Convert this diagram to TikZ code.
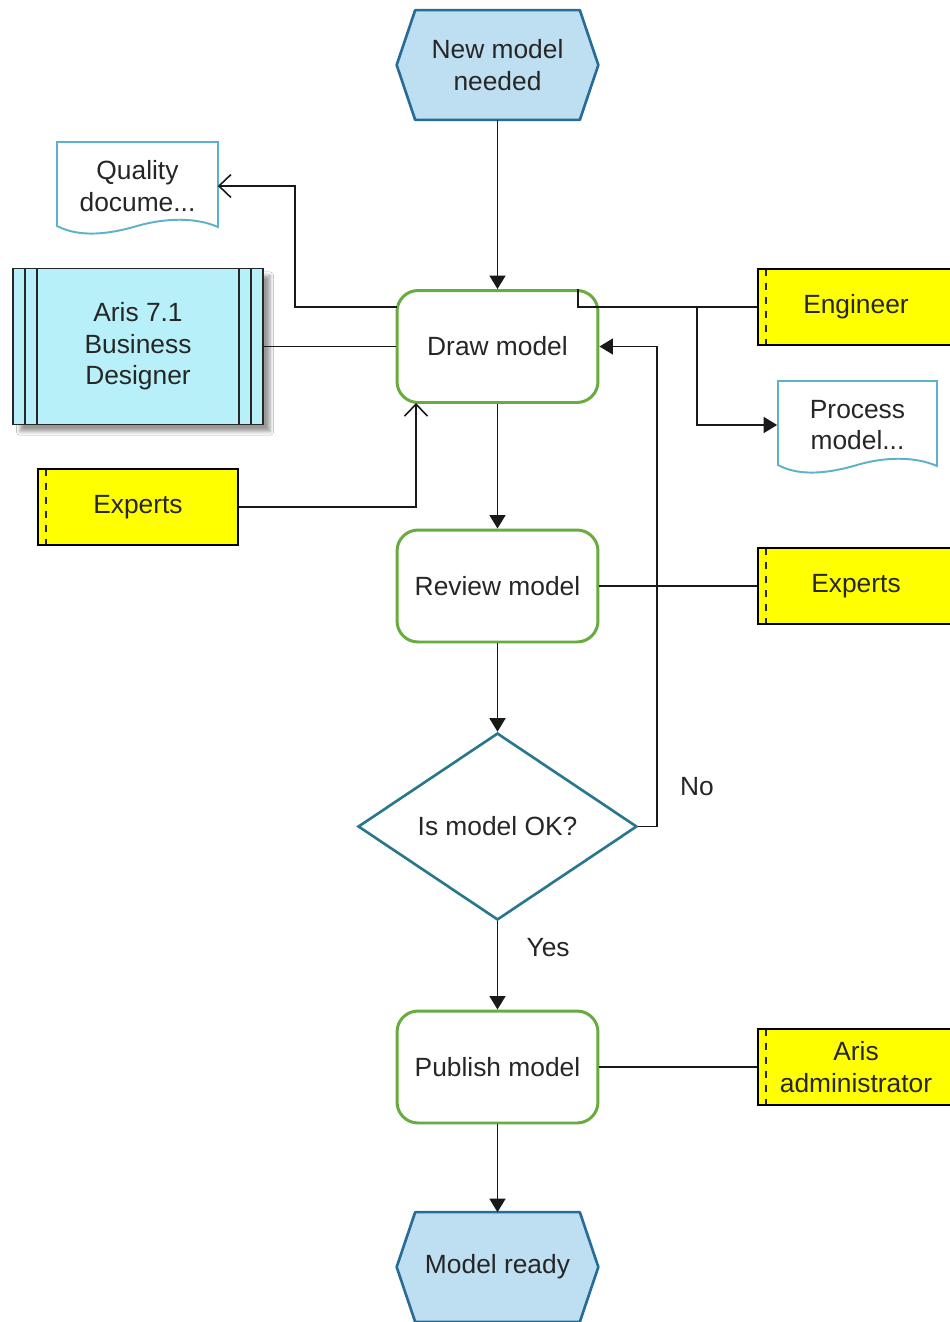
\documentclass[tikz,border=0pt]{standalone}
\usepackage{fontspec}
\setmainfont{Liberation Sans}
\usetikzlibrary{arrows.meta,shapes.geometric,backgrounds,shadows.blur}

\definecolor{eventfill}{RGB}{190,222,242}
\definecolor{eventline}{RGB}{38,108,150}
\definecolor{taskgreen}{RGB}{104,172,64}
\definecolor{docline}{RGB}{92,178,200}
\definecolor{sysfill}{RGB}{184,240,250}
\definecolor{roleyellow}{RGB}{255,255,0}
\definecolor{decline}{RGB}{40,120,140}

\tikzset{
  base/.style={font=\fontsize{15}{18}\selectfont, align=center, text=black!85},
  eventbox/.style={base, minimum width=4.02cm, minimum height=2.18cm, inner sep=0pt},
  hexline/.style={draw=eventline, fill=eventfill, line width=1.5pt, line join=round},
  taskbox/.style={base, rectangle, rounded corners=0.42cm, draw=taskgreen, line width=1.7pt,
    fill=white, minimum width=4.02cm, minimum height=2.24cm},
  rolebox/.style={base, rectangle, draw=black, line width=0.9pt, fill=roleyellow,
    minimum width=3.92cm, minimum height=1.52cm,
    path picture={\draw[black!85, line width=0.9pt, dash pattern=on 4pt off 4pt]
      ([xshift=0.16cm]path picture bounding box.north west) --
      ([xshift=0.16cm]path picture bounding box.south west);}},
  docbox/.style={base, minimum width=3.2cm, minimum height=1.82cm, inner sep=0pt},
  docshape/.style={draw=docline, fill=white, line width=1.1pt},
  sysbox/.style={base, rectangle, draw=black!85, line width=1pt, fill=sysfill,
    minimum width=5cm, minimum height=3.12cm,
    blur shadow={shadow xshift=4pt, shadow yshift=-4pt, shadow blur steps=6, shadow opacity=40},
    path picture={
      \foreach \d in {0.24cm,0.48cm}{
        \draw[black!85, line width=1pt]
          ([xshift=\d]path picture bounding box.north west) --
          ([xshift=\d]path picture bounding box.south west);
        \draw[black!85, line width=1pt]
          ([xshift=-\d]path picture bounding box.north east) --
          ([xshift=-\d]path picture bounding box.south east);}}},
  decbox/.style={base, diamond, draw=decline, line width=1.5pt, fill=white,
    minimum width=5.58cm, minimum height=3.74cm, inner sep=0pt},
  flow/.style={draw=black!90, line width=0.9pt, -{Triangle[length=0.27cm, width=0.32cm]}},
  link/.style={draw=black!90, line width=0.9pt},
  openlink/.style={draw=black!90, line width=0.9pt, -{Straight Barb[length=0.24cm, width=0.46cm]}},
  lbl/.style={base}
}

\begin{document}
\begin{tikzpicture}[x=0.02cm, y=-0.02cm]
  \useasboundingbox (0,0) rectangle (950,1322);

  % main flow
  \node[eventbox] (start) at (497.5,65) {New model\\needed};
  \node[taskbox] (draw) at (497.5,346.5) {Draw model};
  \node[taskbox] (review) at (497.5,586) {Review model};
  \node[decbox] (check) at (497.5,826.5) {Is model OK?};
  \node[taskbox] (publish) at (497.5,1067) {Publish model};
  \node[eventbox] (finish) at (497.5,1267) {Model ready};

  % resources and documents
  \node[docbox] (qual) at (137.5,186) {Quality\\docume...};
  \node[sysbox] (aris) at (138,346.5) {Aris 7.1\\Business\\Designer};
  \node[rolebox, minimum width=4cm] (expL) at (138,507) {Experts};
  \node[rolebox] (eng) at (856,307) {Engineer};
  \node[docbox] (proc) at (857.5,425) {Process\\model...};
  \node[rolebox] (expR) at (856,586) {Experts};
  \node[rolebox] (admin) at (856,1067) {Aris\\administrator};

  % page, event hexagons and document outlines behind the text
  \begin{scope}[on background layer]
    \fill[white] (0,0) rectangle (950,1322);
    \foreach \e in {start,finish}{
      \path[hexline] (\e.west) -- ([xshift=0.37cm]\e.north west) -- ([xshift=-0.37cm]\e.north east)
        -- (\e.east) -- ([xshift=-0.37cm]\e.south east) -- ([xshift=0.37cm]\e.south west) -- cycle;}
    \path[docshape] (57,142) -- (218,142) -- (218,227)
      .. controls (195,217) and (165,218) .. (137,226)
      .. controls (110,234) and (80,238) .. (57,226) -- cycle;
    \path[docshape] (778,381) -- (937,381) -- (937,466)
      .. controls (914,456) and (884,457) .. (857,465)
      .. controls (830,473) and (800,477) .. (778,465) -- cycle;
  \end{scope}

  % sequence flow
  \draw[flow] (start) -- (draw);
  \draw[flow] (draw) -- (review);
  \draw[flow] (review) -- (check.north);
  \draw[flow] (check.south) -- node[lbl, pos=0.3, right=0.45cm] {Yes} (publish);
  \draw[flow] (publish) -- (finish.north);
  \coordinate (noturn) at (657,826.5);
  \draw[flow] (check.east) -- (noturn) |- (draw.east);
  \node[lbl] (nolbl) at (697,787) {No};

  % assignments
  \coordinate (engbend) at (578,307);
  \coordinate (engfork) at (697,307);
  \draw[link] (eng.west) -- (engbend) -- (engbend |- draw.north);
  \draw[flow] (engfork) |- (proc.west);
  \coordinate (qualout) at (397,307);
  \coordinate (qualbend) at (295,307);
  \draw[openlink] (qualout) -- (qualbend) |- (qual.east);
  \draw[link] (aris.east) -- (draw.west);
  \coordinate (expin) at (416,403);
  \draw[openlink] (expL.east) -| (expin);
  \draw[link] (review.east) -- (expR.west);
  \draw[link] (publish.east) -- (admin.west);
\end{tikzpicture}
\end{document}
